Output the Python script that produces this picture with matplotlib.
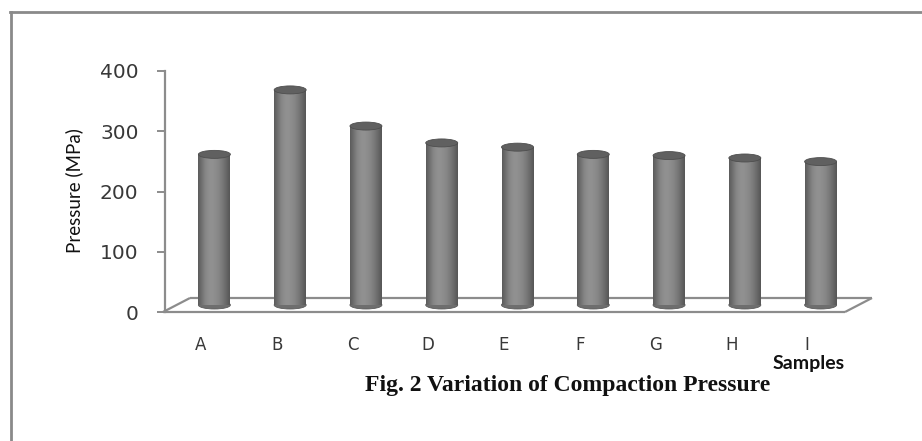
import numpy as np
import matplotlib
matplotlib.use("Agg")
import matplotlib.pyplot as plt
from matplotlib.patches import Ellipse
from matplotlib.lines import Line2D

# data
samples = ["A", "B", "C", "D", "E", "F", "G", "H", "I"]
pressure = [250, 357, 297, 269, 262, 250, 248, 244, 238]
y_ticks = [0, 100, 200, 300, 400]

W, H = 922, 441
fig = plt.figure(figsize=(W / 100, H / 100), dpi=100)

# axes placed in pixel terms: front floor edge y=312, 400 at y=71
x0, x1 = 163, 872
yb, yt = 312, 71
ax = fig.add_axes([x0 / W, 1 - yb / H, (x1 - x0) / W, (yb - yt) / H])

px_per_cat = 75.8
px_per_val = (yb - yt) / 400.0
depth_dx = 27 / px_per_cat        # full floor depth in data units
depth_dy = 14 / px_per_val
mid_dx, mid_dy = depth_dx / 2, depth_dy / 2
bw = 32 / px_per_cat
eh = 8 / px_per_val

grey = "#8c8c8c"

# floor (3D base)
n = len(samples)
xl, xr = -0.5, n - 0.5
floor = [((xl, xr), (0, 0)),
         ((xl + depth_dx, xr + depth_dx), (depth_dy, depth_dy)),
         ((xl, xl + depth_dx), (0, depth_dy)),
         ((xr, xr + depth_dx), (0, depth_dy))]
for xs, ys in floor:
    ax.plot(xs, ys, color=grey, lw=1.6, zorder=1, clip_on=False, solid_capstyle="butt")

# gradient for cylinder shading
g = np.array([0.36, 0.44, 0.52, 0.56, 0.57, 0.55, 0.52, 0.47, 0.41, 0.34])
grad = np.interp(np.linspace(0, 1, 64), np.linspace(0, 1, len(g)), g)[None, :]

for i, v in enumerate(pressure):
    cx = i + mid_dx
    base = mid_dy
    # bottom cap
    ax.add_patch(Ellipse((cx, base), bw, eh, facecolor="#6e6e6e", edgecolor="#5a5a5a",
                         lw=0.6, zorder=2, clip_on=False))
    bar = ax.bar(cx, v, bottom=base, width=bw, color="#808080", lw=0, zorder=3)[0]
    im = ax.imshow(grad, cmap="gray", vmin=0, vmax=1, aspect="auto",
                   extent=(cx - bw / 2, cx + bw / 2, base, base + v), zorder=3,
                   interpolation="bilinear")
    im.set_clip_path(bar)
    # top cap
    ax.add_patch(Ellipse((cx, base + v), bw, eh, facecolor="#606060", edgecolor="#4e4e4e",
                         lw=0.6, zorder=4, clip_on=False))

ax.set_xlim(xl, xr + depth_dx)
ax.set_ylim(0, 400)

for s in ["top", "right", "bottom"]:
    ax.spines[s].set_visible(False)
ax.spines["left"].set_color(grey)
ax.spines["left"].set_linewidth(1.6)
ax.spines["left"].set_position(("data", xl + 2 / px_per_cat))

ax.set_yticks(y_ticks)
ax.set_yticklabels([str(t) for t in y_ticks], fontsize=14.5, color="#383838",
                   fontfamily="DejaVu Sans")
ax.tick_params(axis="y", direction="out", length=6, width=1.4, color=grey, pad=13)

ax.set_xticks(range(n))
ax.set_xticklabels(samples, fontsize=12, color="#383838", fontfamily="DejaVu Sans")
ax.tick_params(axis="x", length=0, pad=17)
ax.set_facecolor("none")

def ptext(x, y, s, **kw):
    fig.text(x / W, 1 - y / H, s, **kw)

ptext(74, 191, "Pressure (MPa)", rotation=90, ha="center", va="center",
      fontsize=13.5, fontfamily="Lato", color="#111111")
ptext(809, 363, "Samples", ha="center", va="center", fontsize=14,
      fontweight="bold", fontfamily="Lato", color="#111111")
ptext(568, 385, "Fig. 2 Variation of Compaction Pressure", ha="center", va="center",
      fontsize=17, fontweight="bold", fontfamily="Liberation Serif", color="#111111")

# outer frame (left and top edges only)
fig.add_artist(Line2D([10.5 / W, 10.5 / W], [0, 1 - 12 / H], color="#8a8a8a", lw=2))
fig.add_artist(Line2D([10 / W, 1], [1 - 12 / H, 1 - 12 / H], color="#8a8a8a", lw=2))

fig.savefig("out.png", dpi=100, facecolor="white")
